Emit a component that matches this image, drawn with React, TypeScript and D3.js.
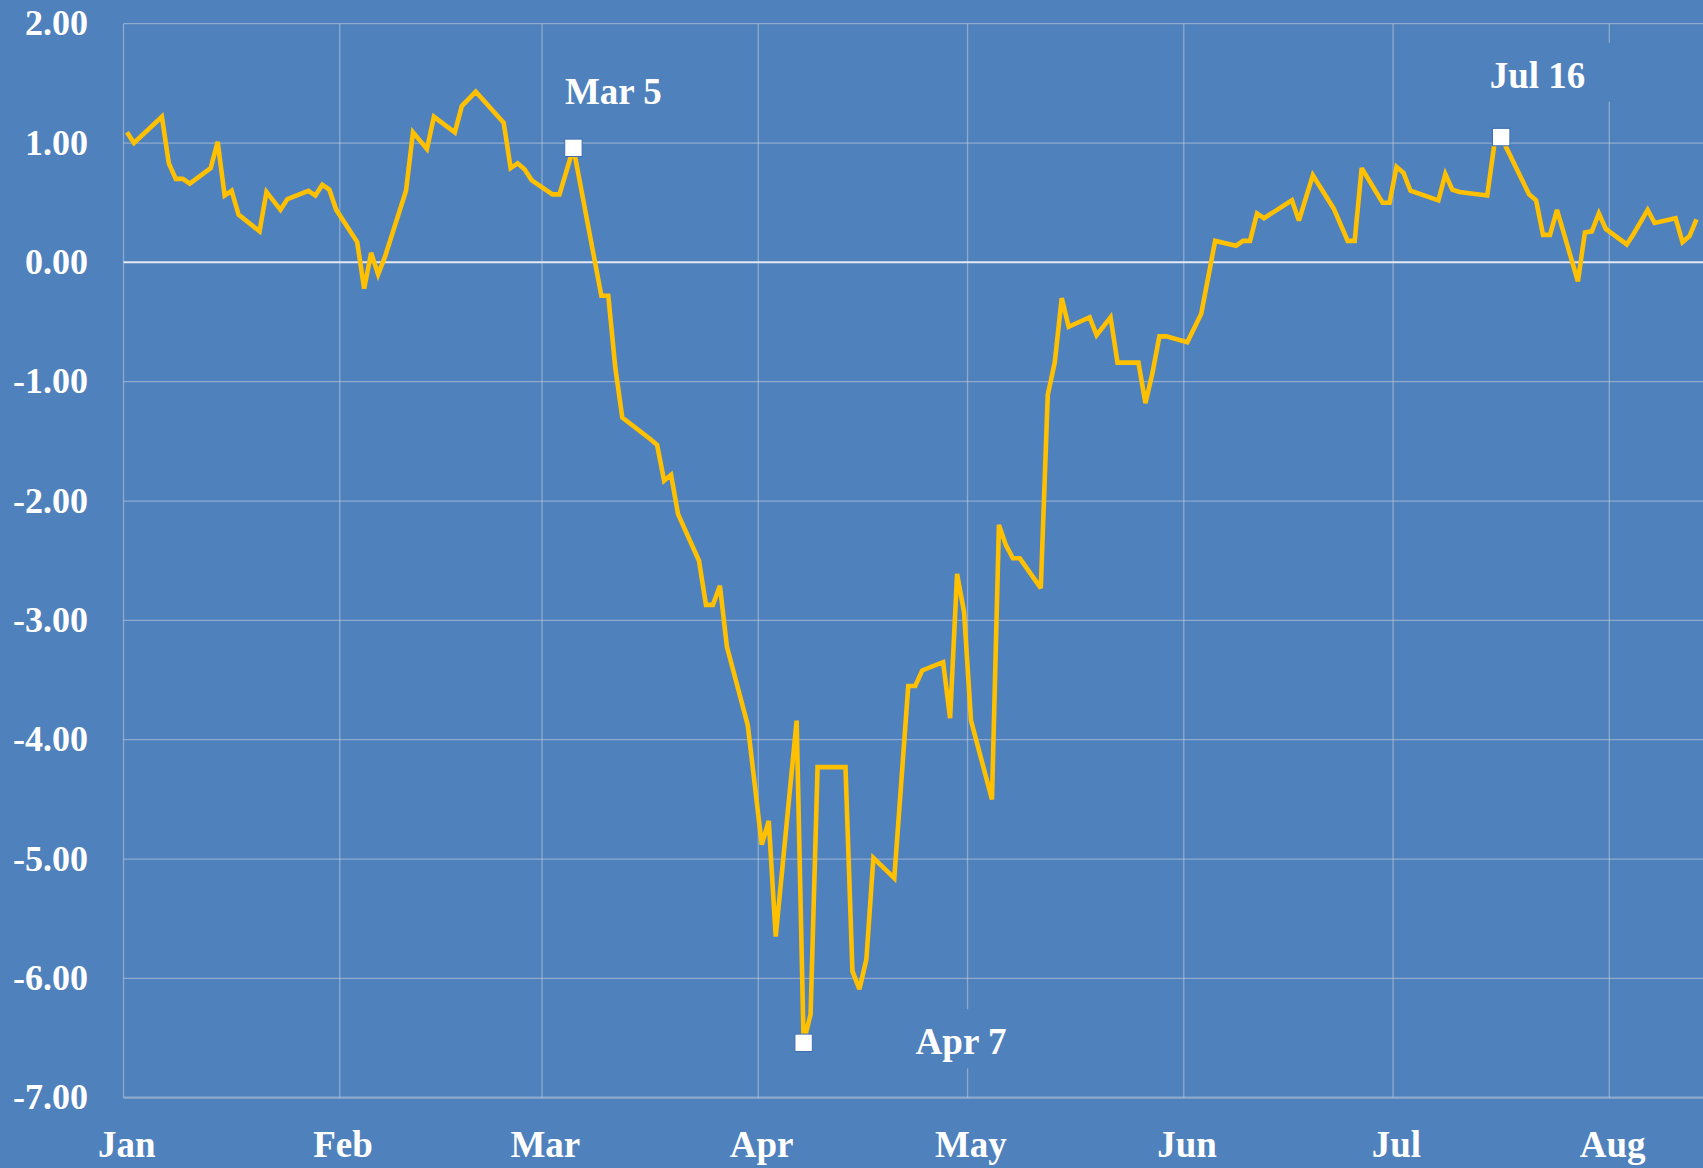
import React from "react";
import * as d3 from "d3";

const dates: string[] = [
  "2020-01-01","2020-01-02","2020-01-06","2020-01-07","2020-01-08","2020-01-09","2020-01-10",
  "2020-01-13","2020-01-14","2020-01-15","2020-01-16","2020-01-17","2020-01-20","2020-01-21",
  "2020-01-23","2020-01-24","2020-01-27","2020-01-28","2020-01-29","2020-01-30","2020-01-31",
  "2020-02-03","2020-02-04","2020-02-05","2020-02-06","2020-02-07","2020-02-10","2020-02-11",
  "2020-02-13","2020-02-14","2020-02-17","2020-02-18","2020-02-20","2020-02-24","2020-02-25",
  "2020-02-26","2020-02-27","2020-02-28","2020-03-02","2020-03-03","2020-03-05","2020-03-09",
  "2020-03-10","2020-03-11","2020-03-12","2020-03-16","2020-03-17","2020-03-18","2020-03-19",
  "2020-03-20","2020-03-23","2020-03-24","2020-03-25","2020-03-26","2020-03-27","2020-03-30",
  "2020-04-01","2020-04-02","2020-04-03","2020-04-06","2020-04-07","2020-04-08","2020-04-09",
  "2020-04-13","2020-04-14","2020-04-15","2020-04-16","2020-04-17","2020-04-20","2020-04-22",
  "2020-04-23","2020-04-24","2020-04-27","2020-04-28","2020-04-29","2020-04-30","2020-05-01",
  "2020-05-04","2020-05-05","2020-05-06","2020-05-07","2020-05-08","2020-05-11","2020-05-12",
  "2020-05-13","2020-05-14","2020-05-15","2020-05-18","2020-05-19","2020-05-21","2020-05-22",
  "2020-05-25","2020-05-26","2020-05-27","2020-05-28","2020-05-29","2020-06-01","2020-06-03",
  "2020-06-05","2020-06-08","2020-06-09","2020-06-10","2020-06-11","2020-06-12","2020-06-16",
  "2020-06-17","2020-06-19","2020-06-22","2020-06-24","2020-06-25","2020-06-26","2020-06-29",
  "2020-06-30","2020-07-01","2020-07-02","2020-07-03","2020-07-07","2020-07-08","2020-07-09",
  "2020-07-10","2020-07-14","2020-07-15","2020-07-16","2020-07-20","2020-07-21","2020-07-22",
  "2020-07-23","2020-07-24","2020-07-27","2020-07-28","2020-07-29","2020-07-30","2020-07-31",
  "2020-08-03","2020-08-04","2020-08-06","2020-08-07","2020-08-10","2020-08-11","2020-08-12",
  "2020-08-13",
];

const values: number[] = [
  1.09, 1.0, 1.22, 0.83, 0.7, 0.7, 0.66,
  0.79, 1.01, 0.56, 0.6, 0.4, 0.26, 0.59,
  0.44, 0.53, 0.6, 0.56, 0.65, 0.61, 0.44,
  0.17, -0.22, 0.08, -0.1, 0.05, 0.6, 1.09,
  0.95, 1.22, 1.09, 1.31, 1.43, 1.17, 0.79,
  0.83, 0.78, 0.69, 0.57, 0.57, 0.96, -0.28,
  -0.28, -0.88, -1.3, -1.48, -1.53, -1.83, -1.78,
  -2.11, -2.5, -2.87, -2.87, -2.71, -3.22, -3.88,
  -4.88, -4.68, -5.65, -3.84, -6.54, -6.3, -4.23,
  -4.23, -5.94, -6.09, -5.84, -4.99, -5.16, -3.55,
  -3.55, -3.42, -3.35, -3.82, -2.61, -2.93, -3.84,
  -4.5, -2.2, -2.37, -2.48, -2.48, -2.73, -1.11,
  -0.84, -0.3, -0.54, -0.46, -0.61, -0.46, -0.84,
  -0.84, -1.18, -0.93, -0.62, -0.62, -0.67, -0.43,
  0.18, 0.14, 0.18, 0.18, 0.41, 0.37, 0.52,
  0.35, 0.73, 0.45, 0.18, 0.18, 0.79, 0.5,
  0.5, 0.8, 0.75, 0.6, 0.52, 0.74, 0.61,
  0.59, 0.56, 0.98, 1.05, 0.57, 0.52, 0.23,
  0.23, 0.44, -0.16, 0.25, 0.26, 0.41, 0.28,
  0.15, 0.24, 0.44, 0.33, 0.37, 0.17, 0.22,
  0.36,
];

const monthLabels: string[] = ["Jan", "Feb", "Mar", "Apr", "May", "Jun", "Jul", "Aug"];
const yTicks: number[] = [2, 1, 0, -1, -2, -3, -4, -5, -6, -7];

const annotationDates: string[] = ["2020-03-05", "2020-04-07", "2020-07-16"];
const annotationTexts: string[] = ["Mar 5", "Apr 7", "Jul 16"];

const W = 1703;
const H = 1168;
const BG = "#4F81BD";
const GRID = "rgba(205,212,224,0.5)";
const FONT = "'Liberation Serif', 'Times New Roman', serif";

const parse = (s: string) => {
  const [y, m, d] = s.split("-").map(Number);
  return new Date(Date.UTC(y, m - 1, d, 12));
};

export default function App() {
  const x = d3
    .scaleUtc()
    .domain([new Date(Date.UTC(2020, 0, 1)), new Date(Date.UTC(2020, 7, 1))])
    .range([123.5, 1609.3]);
  const y = d3.scaleLinear().domain([-7, 2]).range([1097.7, 23.7]);

  const data = dates.map((d, i) => ({ date: parse(d), value: values[i] }));
  const line = d3
    .line<{ date: Date; value: number }>()
    .x((d) => x(d.date))
    .y((d) => y(d.value));

  const months = monthLabels.map((_, i) => new Date(Date.UTC(2020, i, 1)));
  const plotLeft = x.range()[0];
  const plotTop = y(2);
  const plotBottom = y(-7);

  // label placement offsets relative to the marker (style only)
  const labelOffsets = [
    { dx: -8.5, dy: -44 },
    { dx: 112, dy: 11.5 },
    { dx: -11.5, dy: -49.5 },
  ];
  const textWidths = [97, 91, 96];

  const annots = annotationDates.map((ds, i) => {
    const idx = dates.indexOf(ds);
    const cx = x(parse(ds));
    const cy = y(values[idx]);
    const tx = cx + labelOffsets[i].dx;
    const ty = cy + labelOffsets[i].dy;
    return { cx, cy, tx, ty, text: annotationTexts[i], w: textWidths[i] };
  });

  return (
    <svg
      width={W}
      height={H}
      style={{ position: "absolute", left: 0, top: 0, display: "block" }}
    >
      <rect x={0} y={0} width={W} height={H} fill={BG} />
      {/* vertical gridlines */}
      {months.map((m, i) => (
        <line
          key={"v" + i}
          x1={x(m)}
          x2={x(m)}
          y1={plotTop}
          y2={plotBottom}
          stroke={GRID}
          strokeWidth={1.3}
        />
      ))}
      {/* horizontal gridlines */}
      {yTicks.map((t) => (
        <line
          key={"h" + t}
          x1={plotLeft}
          x2={W}
          y1={y(t)}
          y2={y(t)}
          stroke={t === 0 ? "#E4E9F2" : GRID}
          strokeWidth={t === 0 ? 2 : t === -7 ? 2.2 : 1.3}
        />
      ))}
      {/* y tick labels */}
      {yTicks.map((t) => (
        <text
          key={"yl" + t}
          x={88}
          y={y(t) + 11.5}
          textAnchor="end"
          fill="#FFFFFF"
          fontFamily={FONT}
          fontWeight="bold"
          fontSize={36}
        >
          {t.toFixed(2)}
        </text>
      ))}
      {/* x tick labels */}
      {months.map((m, i) => (
        <text
          key={"xl" + i}
          x={x(m) + 3.3}
          y={1157}
          textAnchor="middle"
          fill="#FFFFFF"
          fontFamily={FONT}
          fontWeight="bold"
          fontSize={37}
        >
          {monthLabels[i]}
        </text>
      ))}
      {/* series line */}
      <path
        d={line(data) || ""}
        fill="none"
        stroke="#FFC000"
        strokeWidth={4.6}
        strokeLinejoin="miter"
        strokeMiterlimit={3}
      />
      {/* markers + labels */}
      {annots.map((a, i) => (
        <g key={"a" + i}>
          <rect
            x={a.cx - 8.7}
            y={a.cy - 8.7}
            width={17.4}
            height={17.4}
            fill="#FFFFFF"
            stroke="#3E6DB5"
            strokeWidth={1}
          />
          <rect
            x={a.tx - 20}
            y={a.ty - 45}
            width={a.w + 48}
            height={59}
            fill={BG}
          />
          <text
            x={a.tx}
            y={a.ty}
            fill="#FFFFFF"
            fontFamily={FONT}
            fontWeight="bold"
            fontSize={37}
          >
            {a.text}
          </text>
        </g>
      ))}
    </svg>
  );
}
